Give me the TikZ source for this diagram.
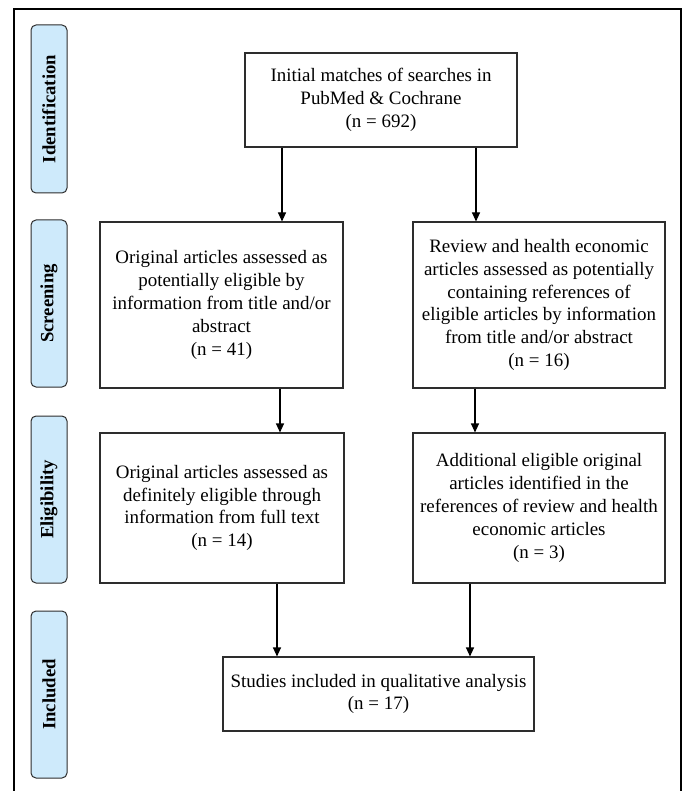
\documentclass[tikz,border=0pt]{standalone}
\usepackage{fontspec}
\setmainfont{Liberation Serif}
\usetikzlibrary{arrows.meta}
\definecolor{labfill}{RGB}{206,234,251}
\definecolor{edgegray}{RGB}{45,45,45}
\begin{document}
\begin{tikzpicture}[x=1pt,y=-1pt,
  box/.style={draw=edgegray, line width=1.1pt, fill=white, align=center, inner sep=0pt,
    font=\fontsize{18.95}{22.8}\selectfont},
  phase/.style={draw=edgegray, line width=1pt, fill=labfill, rounded corners=5pt,
    inner sep=0pt, rotate=90, minimum height=36pt, font=\bfseries\fontsize{18.7}{20}\selectfont},
  arr/.style={draw=black, line width=1.1pt, -{Triangle[width=8pt,length=9pt]}}]
\useasboundingbox (0,0) rectangle (683,791);
\draw[line width=2pt] (14,791) -- (14,9) -- (681,9) -- (681,791);

% phase labels
\node[phase, minimum width=168pt] (pid) at (49,109) {Identification};
\node[phase, minimum width=167pt] (psc) at (49,303.5) {Screening};
\node[phase, minimum width=167pt] (pel) at (49,499.5) {Eligibility};
\node[phase, minimum width=167pt] (pin) at (49,694.5) {Included};

% boxes
\node[box, minimum width=272pt, minimum height=94pt] (init) at (381,100)
  {Initial matches of searches in\\PubMed \& Cochrane\\(n = 692)};
\node[box, minimum width=243pt, minimum height=166pt] (s1) at (221.5,305)
  {Original articles assessed as\\potentially eligible by\\information from title and/or\\abstract\\(n = 41)};
\node[box, minimum width=252pt, minimum height=166pt] (s2) at (539,305)
  {Review and health economic\\articles assessed as potentially\\containing references of\\eligible articles by information\\from title and/or abstract\\(n = 16)};
\node[box, minimum width=244pt, minimum height=150pt] (e1) at (222,508)
  {Original articles assessed as\\definitely eligible through\\information from full text\\(n = 14)};
\node[box, minimum width=252pt, minimum height=150pt] (e2) at (539,508)
  {Additional eligible original\\articles identified in the\\references of review and health\\economic articles\\(n = 3)};
\node[box, minimum width=311pt, minimum height=74pt] (inc) at (378.5,694)
  {Studies included in qualitative analysis\\(n = 17)};

% arrow columns
\coordinate (c1) at (282,0);
\coordinate (c2) at (476,0);
\coordinate (c3) at (280,0);
\coordinate (c4) at (475,0);
\coordinate (c5) at (277,0);
\coordinate (c6) at (470,0);

\draw[arr] (init.south -| c1) -- (s1.north -| c1);
\draw[arr] (init.south -| c2) -- (s2.north -| c2);
\draw[arr] (s1.south -| c3) -- (e1.north -| c3);
\draw[arr] (s2.south -| c4) -- (e2.north -| c4);
\draw[arr] (e1.south -| c5) -- (inc.north -| c5);
\draw[arr] (e2.south -| c6) -- (inc.north -| c6);
\end{tikzpicture}
\end{document}
